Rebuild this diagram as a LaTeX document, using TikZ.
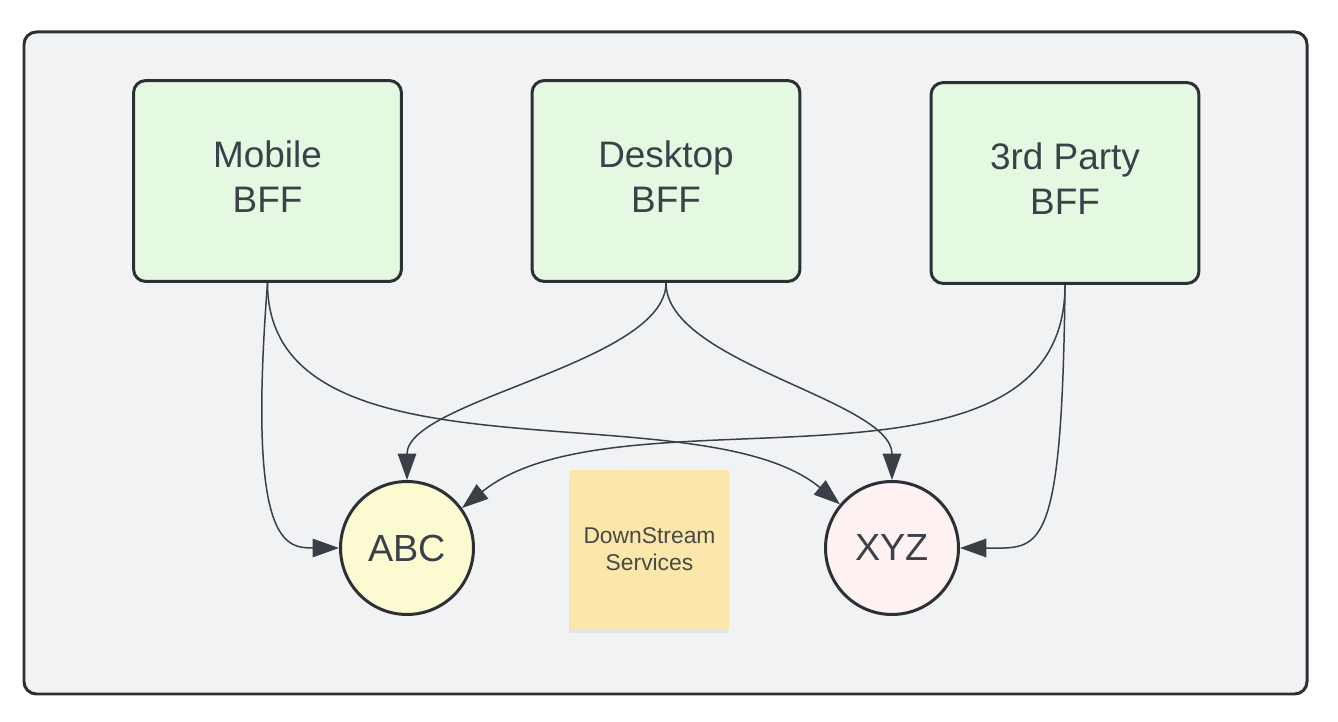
\documentclass[tikz,border=0pt]{standalone}
\usepackage{fontspec}
\setmainfont{Liberation Sans}
\usetikzlibrary{arrows.meta,shadows}
\definecolor{framebg}{HTML}{F1F2F4}
\definecolor{edgecol}{HTML}{2C2F33}
\definecolor{linecol}{HTML}{3A3F47}
\definecolor{bffgreen}{HTML}{E5F8E2}
\definecolor{abcyellow}{HTML}{FCFAD0}
\definecolor{xyzpink}{HTML}{FDF1F1}
\definecolor{notecol}{HTML}{FBE7AB}
\definecolor{textcol}{HTML}{3B4149}
\definecolor{notetext}{HTML}{4A4A45}
\begin{document}
\begin{tikzpicture}[x=0.02cm,y=-0.02cm,
  bff/.style={draw=edgecol,line width=1.7pt,fill=bffgreen,rounded corners=7pt,
    minimum width=5.36cm,minimum height=4.02cm,align=center,text=textcol,
    text depth=0.16cm,font=\fontsize{21}{25.5}\selectfont},
  service/.style={circle,draw=edgecol,line width=1.7pt,minimum size=2.66cm,
    text=textcol,font=\fontsize{21.5}{25}\selectfont},
  sticky/.style={fill=notecol,minimum size=3.18cm,align=center,text=notetext,
    font=\fontsize{13}{15.3}\selectfont,
    drop shadow={shadow xshift=-0.5pt,shadow yshift=-2pt,opacity=0.12}},
  link/.style={draw=linecol,line width=0.85pt,-{Triangle[length=15pt,width=10.5pt]}}]
\useasboundingbox (0,0) rectangle (1338,722);
\draw[draw=edgecol,fill=framebg,line width=1.7pt,rounded corners=7pt] (24,32) rectangle (1307,694);

% backends for frontends
\node[bff] (mobile) at (267.5,181) {Mobile\\BFF};
\node[bff] (desktop) at (666,181) {Desktop\\BFF};
\node[bff] (party) at (1065,183) {3rd Party\\BFF};

% downstream
\node[service,fill=abcyellow] (abc) at (407,548) {ABC};
\node[service,fill=xyzpink] (xyz) at (892,548) {XYZ};
\node[sticky] (note) at (649.5,549.5) {DownStream\\Services};

\draw[link] (mobile.south) .. controls +(-20,260) and +(-55,0) .. (abc.west);
\draw[link] (mobile.south) .. controls +(0,210) and +(-140,-117) .. (xyz.140);
\draw[link] (desktop.south) .. controls +(0,80) and +(0,-80) .. (abc.north);
\draw[link] (desktop.south) .. controls +(0,80) and +(0,-80) .. (xyz.north);
\draw[link] (party.south) .. controls +(0,235) and +(157,-127) .. (abc.36);
\draw[link] (party.south) .. controls +(-3,275) and +(80,0) .. (xyz.east);
\end{tikzpicture}
\end{document}
